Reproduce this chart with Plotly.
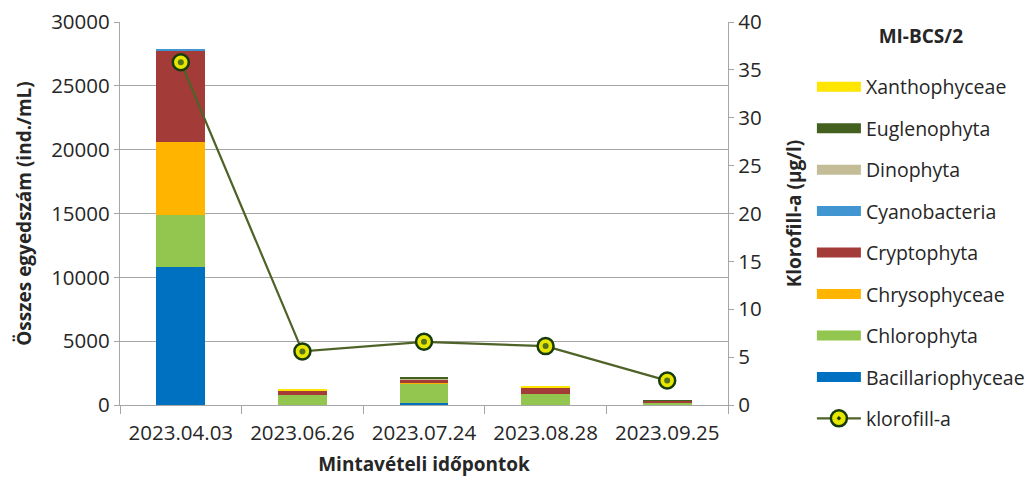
import plotly.graph_objects as go

dates = ["2023.04.03", "2023.06.26", "2023.07.24", "2023.08.28", "2023.09.25"]
bacillariophyceae = [10800, 0, 160, 0, 0]
chlorophyta = [4100, 810, 1500, 880, 190]
chrysophyceae = [5700, 0, 80, 0, 0]
cryptophyta = [7200, 340, 260, 520, 130]
cyanobacteria = [100, 0, 0, 0, 0]
dinophyta = [0, 0, 60, 0, 0]
euglenophyta = [0, 0, 60, 0, 70]
xanthophyceae = [0, 60, 0, 60, 0]
klorofill_a = [35.8, 5.6, 6.6, 6.15, 2.55]

series = [
    ("Bacillariophyceae", bacillariophyceae, "#0070C0"),
    ("Chlorophyta", chlorophyta, "#92C64F"),
    ("Chrysophyceae", chrysophyceae, "#FFB400"),
    ("Cryptophyta", cryptophyta, "#A33B38"),
    ("Cyanobacteria", cyanobacteria, "#4196D2"),
    ("Dinophyta", dinophyta, "#C4BC96"),
    ("Euglenophyta", euglenophyta, "#44601E"),
    ("Xanthophyceae", xanthophyceae, "#FFE500"),
]

FONT = "Open Sans"
TXT = "#262626"
GRID = "#A6A6A6"

fig = go.Figure()

for name, vals, col in series:
    fig.add_trace(go.Bar(x=dates, y=vals, name=name, marker=dict(color=col, line=dict(width=0)),
                         showlegend=False, yaxis="y"))

# legend entries (wide swatches like the original)
for name, vals, col in reversed(series):
    fig.add_trace(go.Scatter(x=[None], y=[None], mode="lines", name=name,
                             line=dict(color=col, width=13), legendgroup=name, showlegend=True))

fig.add_trace(go.Scatter(x=dates, y=klorofill_a, name="klorofill-a", yaxis="y2",
                         mode="lines+markers", legendgroup="klorofill",
                         line=dict(color="#4F6228", width=2.2),
                         marker=dict(symbol="circle-dot", size=16, color="#E6E600",
                                     line=dict(color="#173B0B", width=2.5))))
fig.add_trace(go.Scatter(x=dates, y=klorofill_a, yaxis="y2", mode="markers", showlegend=False,
                         hoverinfo="skip",
                         marker=dict(size=6, color="#55731F", line=dict(width=0))))

fig.update_layout(
    width=1032, height=486,
    margin=dict(l=112, r=312, t=14, b=89, autoexpand=False),
    barmode="stack", bargap=0.6,
    plot_bgcolor="white", paper_bgcolor="white",
    font=dict(family=FONT, size=20.5, color=TXT),
    xaxis=dict(showline=True, linecolor=GRID, linewidth=1.3, ticks="outside", tickson="boundaries",
               ticklen=8, tickcolor=GRID, showgrid=False, ticklabelstandoff=9, automargin=False,
               title=dict(text="<b>Mintavételi időpontok</b>", font=dict(size=19), standoff=12)),
    yaxis=dict(range=[0, 30000], dtick=5000, tickformat="d", showgrid=True, gridcolor=GRID,
               gridwidth=1.3, showline=True, linecolor=GRID, linewidth=1.3, ticks="outside",
               ticklen=5, tickcolor=GRID, zeroline=False, automargin=False,
               ticklabeloverflow="allow",
               title=dict(text="<b>Összes egyedszám (ind./mL)</b>", font=dict(size=19), standoff=14)),
    yaxis2=dict(range=[0, 40], dtick=5, overlaying="y", side="right", showgrid=False,
                showline=True, linecolor=GRID, linewidth=1.3, ticks="outside", ticklen=5,
                tickcolor=GRID, zeroline=False, automargin=False, ticklabeloverflow="allow",
                title=dict(text="<b>Klorofill-a (µg/l)</b>", font=dict(size=19), standoff=26)),
    legend=dict(x=1.138, xanchor="left", y=1.01, yanchor="top", traceorder="grouped",
                tracegroupgap=13.1, itemwidth=44, font=dict(size=19.5), maxheight=475,
                title=dict(text="<b>MI-BCS/2</b><br> ", side="top center", font=dict(size=19)),
                bgcolor="rgba(0,0,0,0)"),
)

fig.write_html("out.html")
